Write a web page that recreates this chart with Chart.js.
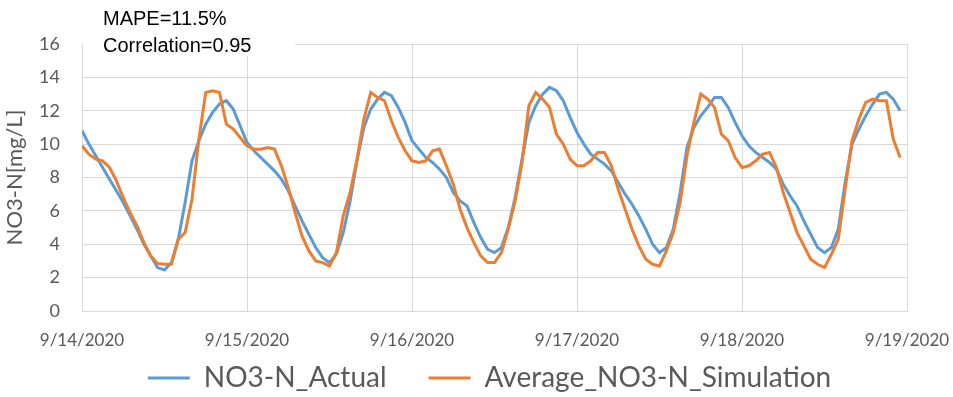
<!DOCTYPE html>
<html>
<head>
<meta charset="utf-8">
<script src="https://cdn.jsdelivr.net/npm/chart.js@4.4.1/dist/chart.umd.min.js"></script>
<style>
  html, body { margin: 0; padding: 0; background: #ffffff; }
  #wrap { width: 953px; height: 397px; position: relative; }
</style>
</head>
<body>
<div id="wrap"><canvas id="chart"></canvas></div>
<script>
// Day labels on the time axis (one tick every 24 hours)
const dayLabels = ['9/14/2020', '9/15/2020', '9/16/2020', '9/17/2020', '9/18/2020', '9/19/2020'];
const hoursPerDay = 24;

// Hourly measured nitrate, 9/14 00:00 .. 9/18 23:00
const actual = [
  10.8, 10.0, 9.3, 8.6, 7.9, 7.2, 6.5, 5.7, 4.9, 4.0, 3.3, 2.6, 2.45, 2.9, 4.3, 6.5, 9.0, 10.2, 11.2, 11.9, 12.4, 12.6, 12.1, 11.1,
  10.1, 9.6, 9.2, 8.8, 8.4, 7.9, 7.2, 6.3, 5.4, 4.6, 3.8, 3.2, 2.9, 3.4, 4.7, 6.6, 9.0, 11.0, 12.1, 12.7, 13.1, 12.9, 12.2, 11.3,
  10.2, 9.7, 9.2, 8.9, 8.5, 8.0, 7.1, 6.6, 6.3, 5.3, 4.4, 3.7, 3.5, 3.8, 5.0, 6.8, 9.1, 11.3, 12.3, 13.0, 13.4, 13.2, 12.6, 11.6,
  10.7, 10.0, 9.4, 9.1, 8.8, 8.4, 7.7, 7.0, 6.4, 5.7, 4.9, 4.0, 3.5, 3.8, 4.9, 7.1, 9.8, 11.0, 11.7, 12.2, 12.8, 12.8, 12.2, 11.3,
  10.5, 9.9, 9.5, 9.2, 8.9, 8.5, 7.6, 6.9, 6.3, 5.4, 4.6, 3.8, 3.5, 3.8, 4.9, 7.7, 10.0, 10.9, 11.7, 12.4, 13.0, 13.1, 12.7, 12.0
];

// Hourly simulated nitrate (ensemble average)
const simulation = [
  9.9, 9.4, 9.1, 9.0, 8.6, 7.8, 6.8, 5.9, 5.1, 4.1, 3.3, 2.85, 2.8, 2.8, 4.3, 4.7, 6.7, 10.3, 13.1, 13.2, 13.1, 11.2, 10.9, 10.4,
  9.9, 9.7, 9.7, 9.8, 9.7, 8.7, 7.4, 5.9, 4.5, 3.6, 3.0, 2.9, 2.7, 3.5, 5.7, 7.1, 9.1, 11.5, 13.1, 12.8, 12.6, 11.4, 10.4, 9.6,
  9.0, 8.9, 9.0, 9.6, 9.7, 8.7, 7.6, 6.1, 5.0, 4.1, 3.3, 2.9, 2.9, 3.5, 4.9, 6.6, 8.9, 12.3, 13.1, 12.7, 12.2, 10.6, 10.0, 9.1,
  8.7, 8.7, 9.0, 9.5, 9.5, 8.7, 7.3, 6.1, 4.9, 3.9, 3.1, 2.8, 2.7, 3.6, 4.7, 6.5, 9.3, 11.3, 13.0, 12.7, 12.2, 10.6, 10.2, 9.2,
  8.6, 8.7, 9.0, 9.4, 9.5, 8.6, 7.1, 5.9, 4.7, 3.9, 3.1, 2.8, 2.6, 3.4, 4.3, 7.3, 10.2, 11.5, 12.5, 12.7, 12.6, 12.6, 10.3, 9.2
];

const statLines = ['MAPE=11.5%', 'Correlation=0.95'];

const axisFont = 'Lato, "Open Sans", sans-serif';
const textGrey = '#595959';
const gridGrey = '#d9d9d9';
const legendFontSize = 28;
const legendGap = 42;

const toPoints = arr => arr.map((v, i) => ({ x: i, y: v }));

// Fit statistics printed in the top-left corner on a white box
const statsBox = {
  id: 'statsBox',
  afterDraw(chart) {
    const ctx = chart.ctx;
    ctx.save();
    ctx.fillStyle = '#ffffff';
    ctx.fillRect(chart.chartArea.left + 1, 4, 212, 52);
    ctx.fillStyle = '#000000';
    ctx.font = '20px "Liberation Sans", Arial, sans-serif';
    ctx.textBaseline = 'alphabetic';
    ctx.textAlign = 'left';
    ctx.fillText(statLines[0], 103, 25);
    ctx.fillText(statLines[1], 103, 52);
    ctx.restore();
  }
};

// Place the legend row under the axis labels, slightly right of centre
const legendPlacement = {
  id: 'legendPlacement',
  afterLayout(chart) {
    const lg = chart.legend;
    if (!lg) return;
    lg.top = 378 - legendGap - legendFontSize / 2;
    lg.bottom = chart.height;
    lg.left += 13;
    lg.right += 13;
  }
};

new Chart(document.getElementById('chart'), {
  type: 'line',
  data: {
    datasets: [
      {
        label: 'NO3-N_Actual',
        data: toPoints(actual),
        borderColor: '#5B9BD5',
        backgroundColor: '#5B9BD5',
        borderWidth: 3,
        pointRadius: 0,
        tension: 0,
        order: 1
      },
      {
        label: 'Average_NO3-N_Simulation',
        data: toPoints(simulation),
        borderColor: '#ED7D31',
        backgroundColor: '#ED7D31',
        borderWidth: 3,
        pointRadius: 0,
        tension: 0,
        order: 0
      }
    ]
  },
  options: {
    responsive: true,
    maintainAspectRatio: false,
    animation: false,
    layout: { padding: { left: 0, right: 0, top: 44, bottom: 0 } },
    plugins: {
      tooltip: { enabled: false },
      legend: {
        position: 'bottom',
        maxHeight: 44,
        labels: {
          usePointStyle: true,
          pointStyle: 'line',
          pointStyleWidth: 42,
          padding: legendGap,
          color: textGrey,
          font: { family: axisFont, size: legendFontSize },
          sort: (a, b) => a.datasetIndex - b.datasetIndex
        }
      }
    },
    scales: {
      x: {
        type: 'linear',
        min: 0,
        max: dayLabels.length * hoursPerDay - hoursPerDay,
        afterBuildTicks: scale => {
          scale.ticks = dayLabels.map((_, i) => ({ value: i * hoursPerDay }));
        },
        afterFit: scale => {
          scale.height = 42;
          scale.paddingLeft = 0;
          scale.paddingRight = 46;
        },
        ticks: {
          color: textGrey,
          font: { family: axisFont, size: 17 },
          padding: 19,
          maxRotation: 0,
          autoSkip: false,
          callback: value => dayLabels[Math.round(value / hoursPerDay)]
        },
        grid: { color: gridGrey, drawTicks: false },
        border: { color: gridGrey }
      },
      y: {
        min: 0,
        max: 16,
        afterFit: scale => { scale.width = 82; },
        ticks: {
          stepSize: 2,
          color: textGrey,
          font: { family: axisFont, size: 18 },
          padding: 22
        },
        title: {
          display: true,
          text: 'NO3-N[mg/L]',
          color: textGrey,
          font: { family: axisFont, size: 22 },
          padding: { top: 2, bottom: 0 }
        },
        grid: { color: gridGrey, drawTicks: false },
        border: { color: gridGrey }
      }
    }
  },
  plugins: [statsBox, legendPlacement]
});
</script>
</body>
</html>
